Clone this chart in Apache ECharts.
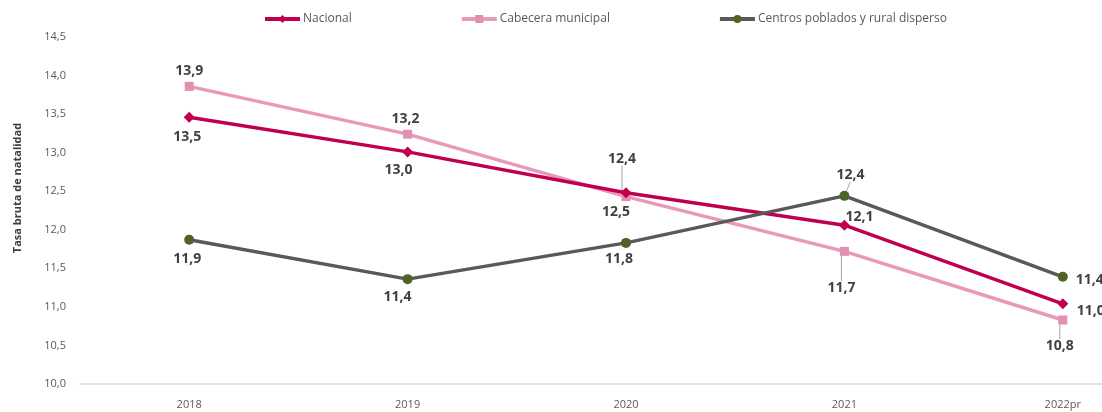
<!DOCTYPE html>
<html><head><meta charset="utf-8">
<script src="https://cdn.jsdelivr.net/npm/echarts@6/dist/echarts.min.js"></script>
<style>html,body{margin:0;padding:0;background:#fff}#c{width:1102px;height:412px}</style>
</head><body><div id="c"></div>
<script>
// ---- data ----
const categories = ['2018', '2019', '2020', '2021', '2022pr'];
const nacional = [13.46, 13.01, 12.48, 12.06, 11.04];
const cabecera = [13.86, 13.24, 12.43, 11.72, 10.83];
const centros = [11.87, 11.36, 11.83, 12.44, 11.39];
const seriesNames = ['Nacional', 'Cabecera municipal', 'Centros poblados y rural disperso'];
const yTicks = [10, 10.5, 11, 11.5, 12, 12.5, 13, 13.5, 14, 14.5];

// ---- label layout (offsets of label centre from the point, px) ----
const offNac = [[-2, 20], [-9, 18], [-10, 19], [15, -8], [28, 7]];
const offCab = [[0, -15], [-2, -15], [-4, -38], [-3, 37], [-3, 26]];
const offCen = [[-2, 19], [-10, 18], [-7, 16], [6, -21], [27, 3]];
const leadCab = [false, false, true, true, true];
const leadCen = [false, false, false, true, false];

const fmt = v => v.toFixed(1).replace('.', ',');
const font = '"Open Sans", "Noto Sans", sans-serif';

function mk(name, values, color, markColor, symbol, size, offs, leads, z) {
  return {
    name, type: 'line', z,
    data: values.map((v, i) => ({
      value: v,
      labelLine: { show: !!(leads && leads[i]) }
    })),
    symbol, symbolSize: size,
    lineStyle: { color, width: 3.5 },
    itemStyle: { color: markColor },
    label: {
      show: true, position: 'inside',
      formatter: p => fmt(p.value),
      color: '#404040', fontWeight: 'bold', fontSize: 14, fontFamily: font
    },
    labelLine: { show: false, lineStyle: { color: '#a6a6a6', width: 1 } },
    labelLayout: p => ({ dx: offs[p.dataIndex][0], dy: offs[p.dataIndex][1] }),
    emphasis: { disabled: true },
    animation: false
  };
}

const chart = echarts.init(document.getElementById('c'));
chart.setOption({
  backgroundColor: '#fff',
  animation: false,
  legend: {
    data: seriesNames,
    left: 258, top: 8,
    itemWidth: 35, itemHeight: 10, itemGap: 108,
    lineStyle: { width: 4 },
    textStyle: { color: '#595959', fontSize: 12, fontFamily: font, padding: [0, 0, 0, -2] }
  },
  grid: { left: 80, top: 37, width: 1092, height: 347, containLabel: false, outerBoundsMode: 'none' },
  xAxis: {
    type: 'category', data: categories, boundaryGap: true,
    axisLine: { lineStyle: { color: '#d9d9d9', width: 1.5 } },
    axisTick: { show: false },
    axisLabel: { color: '#595959', fontSize: 11, fontFamily: font, margin: 15 },
    splitLine: { show: false }
  },
  yAxis: {
    type: 'value', min: yTicks[0], max: yTicks[yTicks.length - 1], interval: 0.5,
    name: 'Tasa bruta de natalidad', nameLocation: 'middle', nameGap: 57, nameRotate: 90,
    nameTextStyle: { color: '#404040', fontWeight: 'bold', fontSize: 11, fontFamily: font, padding: [0, 0, 0, 45] },
    axisLine: { show: false }, axisTick: { show: false },
    splitLine: { show: false },
    axisLabel: { color: '#595959', fontSize: 11, fontFamily: font, margin: 14, formatter: v => fmt(v) }
  },
  series: [
    mk(seriesNames[1], cabecera, '#e899b9', '#e38fb1', 'rect', 9, offCab, leadCab, 2),
    mk(seriesNames[0], nacional, '#c0004f', '#c0004f', 'diamond', 11, offNac, null, 3),
    mk(seriesNames[2], centros, '#595959', '#4f6228', 'circle', 10, offCen, leadCen, 4)
  ]
});
</script></body></html>
